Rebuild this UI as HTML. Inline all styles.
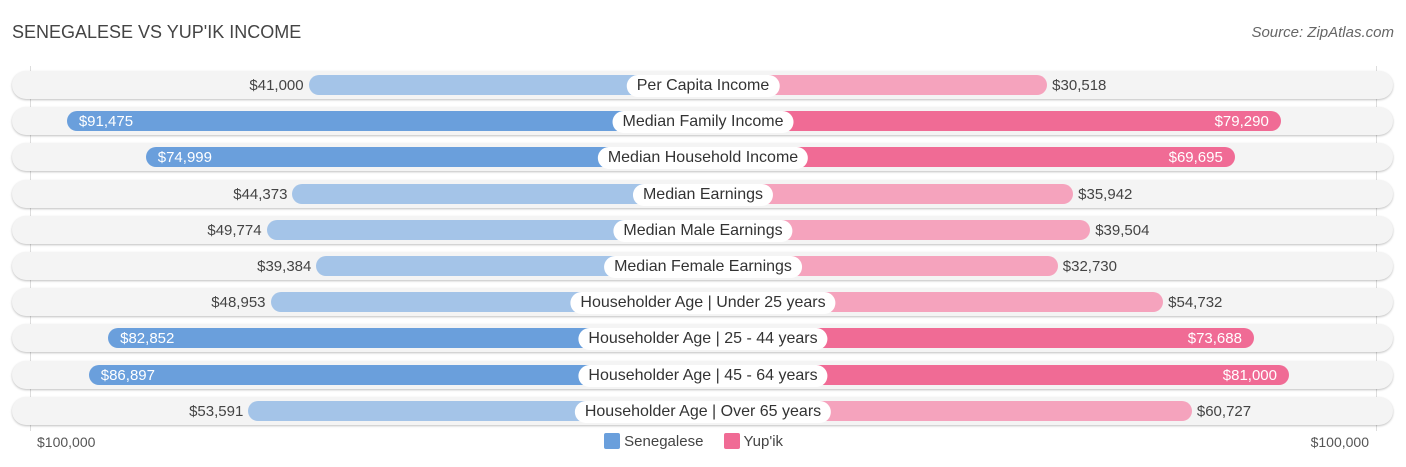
<!DOCTYPE html>
<html><head><meta charset="utf-8"><style>
body{margin:0;background:#fff;font-family:"Liberation Sans",sans-serif;}
#wrap{position:relative;width:1406px;height:467px;overflow:hidden;}
.t{position:absolute;white-space:nowrap;}
</style></head><body>
<div id="wrap">
<div class="t" style="left:12px;top:22px;font-size:18px;color:#444;">SENEGALESE VS YUP'IK INCOME</div>
<div class="t" style="right:12px;top:24px;font-size:15px;color:#666;font-style:italic;">Source: ZipAtlas.com</div>
<div style="position:absolute;left:30px;top:66px;width:1px;height:365px;background:#ddd;"></div>
<div style="position:absolute;left:1376px;top:66px;width:1px;height:365px;background:#ddd;"></div>
<div id="rows"></div>
<div class="t" style="left:37px;top:434px;font-size:14px;color:#555;">$100,000</div>
<div class="t" style="right:37px;top:434px;font-size:14px;color:#555;">$100,000</div>
<div style="position:absolute;left:604px;top:433px;font-size:15px;color:#444;">
<span style="display:inline-block;width:16px;height:16px;background:#6a9fdc;border-radius:2px;vertical-align:-3px;"></span>
<span> Senegalese</span>
<span style="display:inline-block;width:16px;height:16px;background:#f06b95;border-radius:2px;vertical-align:-3px;margin-left:16px;"></span>
<span> Yup'ik</span>
</div>
</div>
<script>
const categories=["Per Capita Income","Median Family Income","Median Household Income","Median Earnings","Median Male Earnings","Median Female Earnings","Householder Age | Under 25 years","Householder Age | 25 - 44 years","Householder Age | 45 - 64 years","Householder Age | Over 65 years"];
const senegalese=[41000,91475,74999,44373,49774,39384,48953,82852,86897,53591];
const yupik=[30518,79290,69695,35942,39504,32730,54732,73688,81000,60727];
const cx=703, top0=85, step=36.2;
function len(v){return 198+v*0.00479;}
function fmt(v){return "$"+v.toLocaleString("en-US");}
const rows=document.getElementById('rows');
function mk(css,txt){const d=document.createElement('div');d.style.cssText="position:absolute;"+css;if(txt!==undefined)d.textContent=txt;rows.appendChild(d);return d;}
categories.forEach((c,i)=>{
  const y=top0+i*step;
  const bg=mk(`left:12px;top:${y-14}px;width:1381px;height:28px;border-radius:14px;background:#f4f4f4;box-shadow:0 1px 2px rgba(0,0,0,0.25);`);
  
  
  const s=senegalese[i], p=yupik[i];
  const ls=len(s), lp=len(p);
  const strongS=s>65000, strongP=p>65000;
  const b1=mk(`left:${cx-ls}px;top:${y-10}px;width:${ls}px;height:20px;border-radius:10px 0 0 10px;background:${strongS?'#6a9fdc':'#a4c4e8'};`);
  
  
  const b2=mk(`left:${cx}px;top:${y-10}px;width:${lp}px;height:20px;border-radius:0 10px 10px 0;background:${strongP?'#f06b95':'#f5a3bd'};`);
  
  
  let v1;
  if(strongS) v1=mk(`left:${cx-ls+12}px;top:${y-8}px;font-size:15px;color:#fff;white-space:nowrap;`,fmt(s));
  else v1=mk(`right:${1406-(cx-ls)+5}px;top:${y-8}px;font-size:15px;color:#444;white-space:nowrap;`,fmt(s));
  
  
  let v2;
  if(strongP) v2=mk(`right:${1406-(cx+lp)+12}px;top:${y-8}px;font-size:15px;color:#fff;white-space:nowrap;`,fmt(p));
  else v2=mk(`left:${cx+lp+5}px;top:${y-8}px;font-size:15px;color:#444;white-space:nowrap;`,fmt(p));
  
  
  const lab=mk(`left:${cx}px;top:${y-10}px;transform:translateX(-50%);height:22px;line-height:22px;padding:0 10px;border-radius:11px;background:#fff;font-size:16px;color:#333;white-space:nowrap;`,c);
  
  
});
</script>
</body></html>
